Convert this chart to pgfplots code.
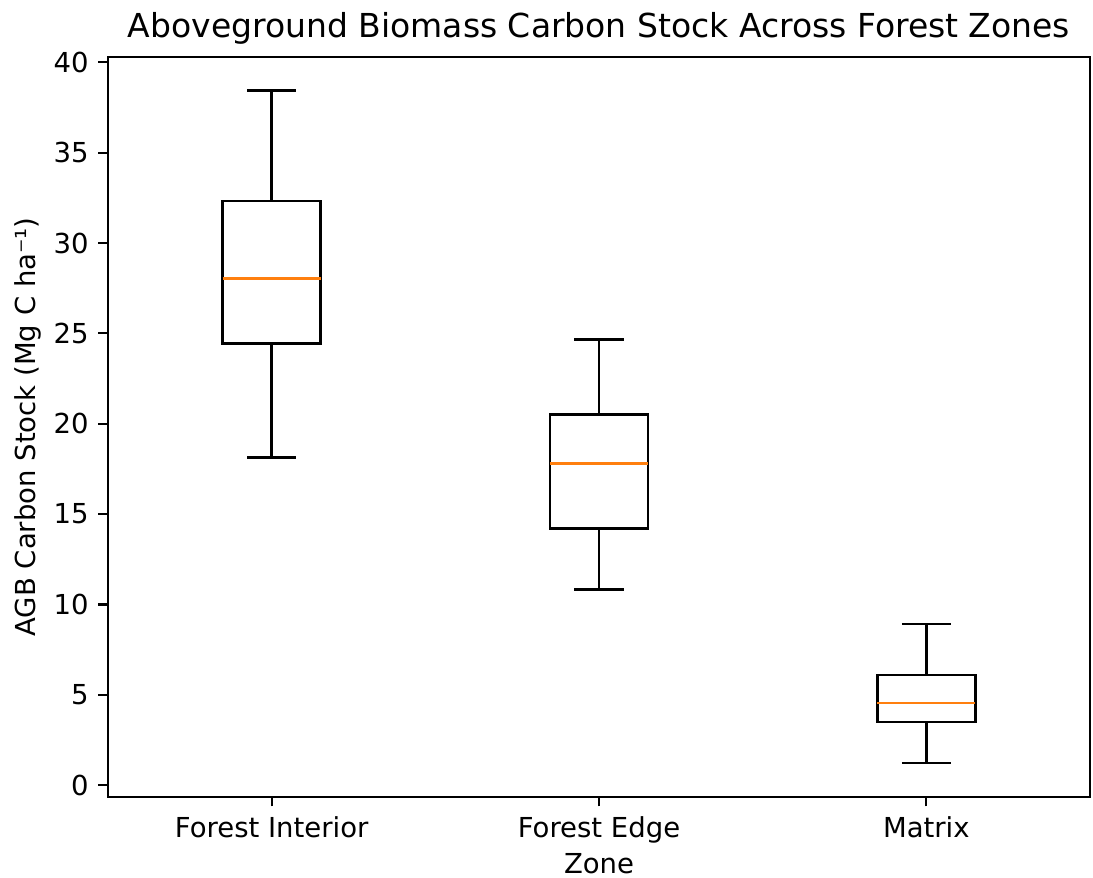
\documentclass[border=0pt]{standalone}
\usepackage{fontspec}
\setmainfont{DejaVu Sans}
\usepackage{pgfplots}
\pgfplotsset{compat=1.18}
\usepgfplotslibrary{statistics}
\definecolor{mplorange}{HTML}{FF7F0E}
\begin{document}
\begin{tikzpicture}
\begin{axis}[
  name=ax,
  scale only axis,
  width=357.1pt, height=269.1pt,
  xmin=0.5, xmax=3.5,
  ymin=-0.65, ymax=40.3,
  xtick={1,2,3},
  xticklabels={Forest Interior, Forest Edge, Matrix},
  ytick={0,5,10,15,20,25,30,35,40},
  tick align=outside,
  tick pos=left,
  major tick length=3.5pt,
  every tick/.style={black, line width=0.8pt},
  axis line style={line width=0.8pt},
  tick label style={font=\fontsize{10}{12}\selectfont},
  /pgf/number format/assume math mode=true,
  label style={font=\fontsize{10}{12}\selectfont},
  xlabel={Zone},
  ylabel={AGB Carbon Stock (Mg C ha⁻¹)},
  title={Aboveground Biomass Carbon Stock Across Forest Zones},
  every axis x label/.style={at={(axis description cs:0.5,0)}, anchor=base, yshift=-28pt},
  every axis y label/.style={at={(axis description cs:0,0.5)}, rotate=90, anchor=base, yshift=26.5pt},
  every axis title/.style={at={(axis description cs:0.5,1)}, anchor=base, yshift=6.9pt, font=\fontsize{12}{14}\selectfont},
  boxplot/draw direction=y,
  boxplot/box extend=0.3,
  boxplot/whisker extend=0.15,
  boxplot/every median/.style={draw=mplorange, line width=1pt},
  boxplot/every box/.style={draw=black, line width=1pt},
  boxplot/every whisker/.style={draw=black, line width=1pt},
]
\addplot[black, line width=1pt, boxplot prepared={
  draw direction=y, draw position=1, median=28.05, upper quartile=32.32, lower quartile=24.45,
  upper whisker=38.45, lower whisker=18.15}] coordinates {};
\addplot[black, line width=1pt, boxplot prepared={
  draw direction=y, draw position=2, median=17.81, upper quartile=20.53, lower quartile=14.22,
  upper whisker=24.67, lower whisker=10.84}] coordinates {};
\addplot[black, line width=1pt, boxplot prepared={
  draw direction=y, draw position=3, median=4.54, upper quartile=6.09, lower quartile=3.49,
  upper whisker=8.91, lower whisker=1.22}] coordinates {};
\end{axis}
\pgfresetboundingbox
\path[use as bounding box] ([xshift=-39.3pt,yshift=-29.5pt]ax.south west) rectangle ([xshift=1.1pt,yshift=20.7pt]ax.north east);
\end{tikzpicture}
\end{document}
